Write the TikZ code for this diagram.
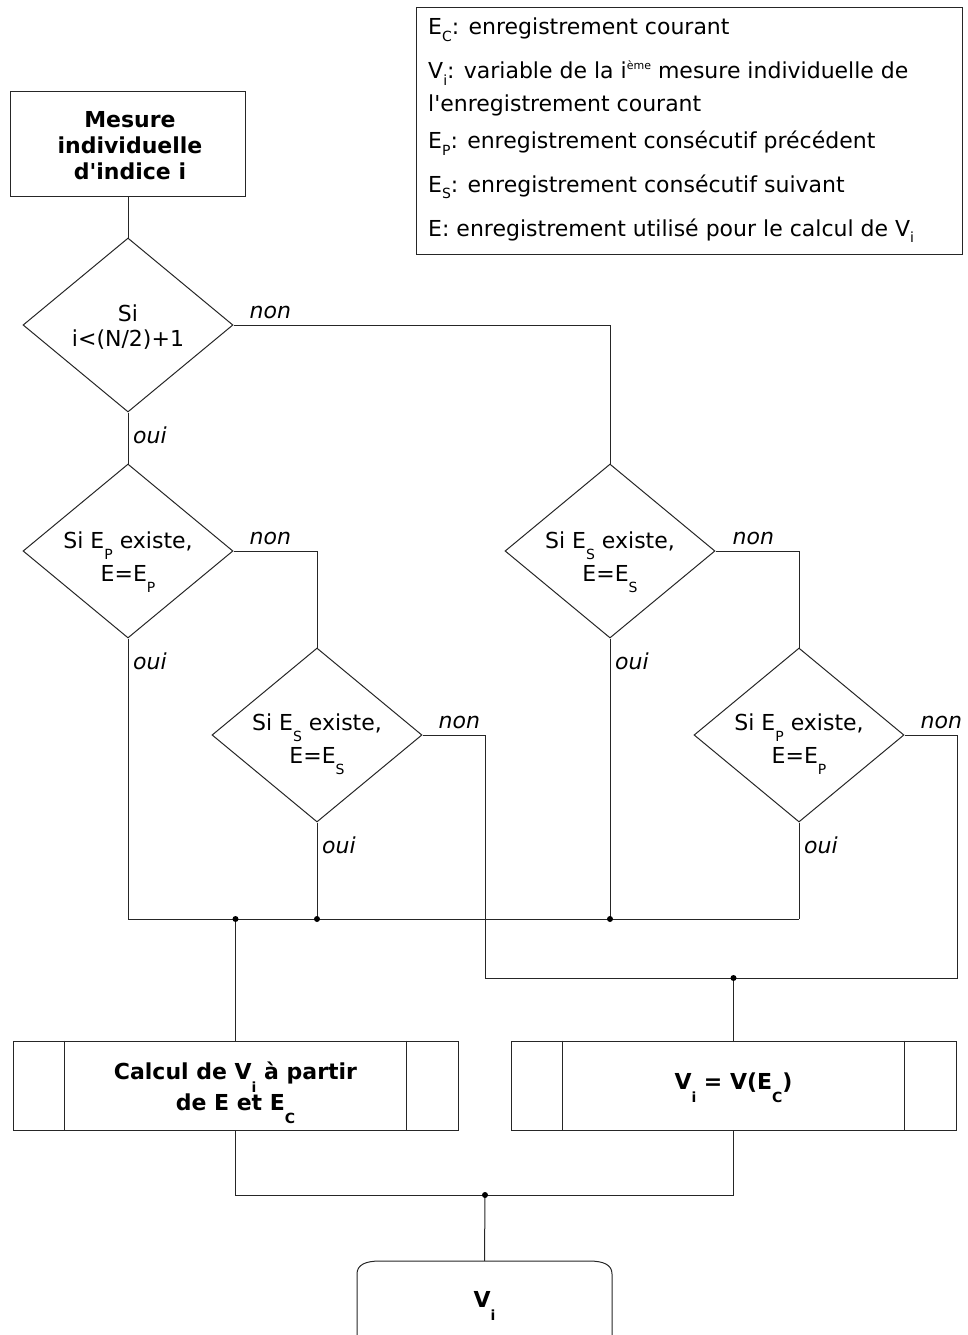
\documentclass[tikz,border=0pt]{standalone}
\usepackage{fontspec}
\setmainfont{DejaVu Sans}
\usetikzlibrary{shapes.geometric,calc}
\newcommand\sbs[2][0.3em]{\raisebox{-#1}{\fontsize{14}{14}\selectfont #2}}
\newcommand\sps[1]{\raisebox{0.45em}{\fontsize{11}{11}\selectfont #1}}
\begin{document}
\begin{tikzpicture}[x=1pt,y=-1pt,
  line/.style={draw=black!85,line width=1pt},
  every node/.style={font=\fontsize{22}{26}\selectfont},
  dia/.style={diamond,draw=black!85,line width=1pt,minimum width=210pt,minimum height=174pt,inner sep=0pt,aspect=1.2},
  dtxt/.style={inner sep=0pt,align=center,font=\fontsize{22}{33}\selectfont},
  proc/.style={rectangle,draw=black!85,line width=1pt,minimum width=445pt,minimum height=89pt,inner sep=0pt},
  ptxt/.style={inner sep=0pt,align=center,font=\fontsize{22}{31}\selectfont\bfseries},
  lbl/.style={anchor=base west,inner sep=0pt,font=\fontsize{22}{26}\selectfont\itshape},
  leg/.style={anchor=base west,inner sep=0pt},
  dot/.style={fill=black}
]
\useasboundingbox (0,0) rectangle (967,1335);
\clip (0,0) rectangle (967,1335);

% legend
\draw[line] (416,8) rectangle (962,254);
\node[leg] (l1) at (428,35) {E\sbs{C}: enregistrement courant};
\node[leg] (l2) at (428,79) {V\sbs{i}: variable de la i\sps{ème} mesure individuelle de};
\node[leg] (l3) at (428,112) {l\textquotesingle enregistrement courant};
\node[leg] (l4) at (428,149) {E\sbs{P}: enregistrement consécutif précédent};
\node[leg] (l5) at (428,192) {E\sbs{S}: enregistrement consécutif suivant};
\node[leg] (l6) at (428,236) {E: enregistrement utilisé pour le calcul de V\sbs{i}};

% start box
\node[draw=black!85,line width=1pt,minimum width=235pt,minimum height=104pt,inner sep=0pt] (start) at (128,144) {};
\node[inner sep=0pt,align=center,font=\fontsize{22}{26}\selectfont\bfseries] (starttxt) at (130,146) {Mesure\\individuelle\\d\textquotesingle indice i};

% decisions
\node[dia] (d1) at (128,325) {};
\node[dtxt,font=\fontsize{22}{25}\selectfont] (t1) at (128,327) {Si\\i<(N/2)+1};
\node[dia] (d2) at (128,551) {};
\node[dtxt] (t2) at (128,562) {Si E\sbs[0.5em]{P} existe,\\E=E\sbs[0.5em]{P}};
\node[dia] (d3) at (610,551) {};
\node[dtxt] (t3) at (610,562) {Si E\sbs[0.5em]{S} existe,\\E=E\sbs[0.5em]{S}};
\node[dia] (d4) at (317,735) {};
\node[dtxt] (t4) at (317,744) {Si E\sbs[0.5em]{S} existe,\\E=E\sbs[0.5em]{S}};
\node[dia] (d5) at (799,735) {};
\node[dtxt] (t5) at (799,744) {Si E\sbs[0.5em]{P} existe,\\E=E\sbs[0.5em]{P}};

% process boxes
\node[proc] (p1) at (235.5,1085.5) {};
\node[ptxt] (pt1) at (235.5,1093) {Calcul de V\sbs[0.6em]{i} à partir\\de E et E\sbs[0.6em]{C}};
\node[proc] (p2) at (733.5,1085.5) {};
\node[ptxt] (pt2) at (733.5,1088) {V\sbs[0.6em]{i} = V(E\sbs[0.6em]{C})};
\draw[line] ($(p1.north west)+(52,0)$) -- ($(p1.south west)+(52,0)$);
\draw[line] ($(p1.north east)+(-52,0)$) -- ($(p1.south east)+(-52,0)$);
\draw[line] ($(p2.north west)+(52,0)$) -- ($(p2.south west)+(52,0)$);
\draw[line] ($(p2.north east)+(-52,0)$) -- ($(p2.south east)+(-52,0)$);

% terminal
\node[minimum width=255pt,minimum height=90pt,inner sep=0pt,font=\fontsize{22}{26}\selectfont\bfseries] (term) at (484.5,1306) {V\sbs[0.6em]{i}};
\draw[line] (357,1345) -- (357,1274) .. controls (357,1265) and (365,1261) .. (380,1261) -- (589,1261) .. controls (604,1261) and (612,1265) .. (612,1274) -- (612,1345);

% junction coordinates
\coordinate (j1) at (128,919);
\coordinate (j5) at (799,919);
\coordinate (ja) at (p1.north |- j1);
\coordinate (k1) at (485,978);
\coordinate (k2) at (957,978);
\coordinate (kb) at (p2.north |- k1);
\coordinate (m) at (485,1195);

% connectors
\draw[line] (start.south) -- (d1.north);
\draw[line] (d1.east) -| (d3.north);
\draw[line] (d1.south) -- (d2.north);
\draw[line] (d2.east) -| (d4.north);
\draw[line] (d3.east) -| (d5.north);
\draw[line] (d2.south) -- (j1) -- (j5);
\draw[line] (d5.south) -- (j5);
\draw[line] (d4.south) -- (d4.south |- j1);
\draw[line] (d3.south) -- (d3.south |- j1);
\draw[line] (ja) -- (p1.north);
\draw[line] (d4.east) -| (k1) -- (k2) |- (d5.east);
\draw[line] (kb) -- (p2.north);
\draw[line] (p1.south) |- (m) -| (p2.south);
\draw[line] (m) -- (term.north);

% dots
\fill[dot] (ja) circle (3pt);
\fill[dot] (d4.south |- j1) circle (3pt);
\fill[dot] (d3.south |- j1) circle (3pt);
\fill[dot] (kb) circle (3pt);
\fill[dot] (m) circle (3pt);

% labels
\node[lbl] (n1) at ($(d1.east)+(16,-7)$) {non};
\node[lbl] (n2) at ($(d2.east)+(16,-7)$) {non};
\node[lbl] (n3) at ($(d3.east)+(17,-7)$) {non};
\node[lbl] (n4) at ($(d4.east)+(16,-7)$) {non};
\node[lbl] (n5) at ($(d5.east)+(16,-7)$) {non};
\node[lbl] (o1) at ($(d1.south)+(5,31)$) {oui};
\node[lbl] (o2) at ($(d2.south)+(5,31)$) {oui};
\node[lbl] (o3) at ($(d3.south)+(5,31)$) {oui};
\node[lbl] (o4) at ($(d4.south)+(5,31)$) {oui};
\node[lbl] (o5) at ($(d5.south)+(5,31)$) {oui};
\end{tikzpicture}
\end{document}
